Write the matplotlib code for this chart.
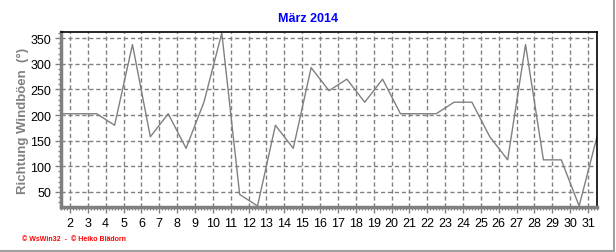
import matplotlib
matplotlib.use("Agg")
import matplotlib.pyplot as plt
import numpy as np
from matplotlib.ticker import MultipleLocator
from matplotlib.lines import Line2D

# Tageswerte Richtung Windböen (Grad), März 2014
days = list(range(1, 32))
richtung = [202.5, 202.5, 202.5, 180, 337.5, 157.5, 202.5, 135, 225, 360,
            45, 22.5, 180, 135, 292.5, 247.5, 270, 225, 270, 202.5,
            202.5, 202.5, 225, 225, 157.5, 112.5, 337.5, 112.5, 112.5, 22.5,
            157.5]
xticks = list(range(2, 32))
yticks = [50, 100, 150, 200, 250, 300, 350]

plt.rcParams['font.family'] = ['Liberation Sans', 'DejaVu Sans']

fig = plt.figure(figsize=(6.16, 2.53), dpi=100)
ax = fig.add_axes([61/616, 1-208/253, (597-61)/616, (208-33)/253])

x = np.array(days) + 0.5
ax.plot(x, richtung, color='#808080', lw=1)

ax.set_xlim(1.5, 31.5)
ax.set_ylim(20.5, 362)
ax.set_xticks(xticks)
ax.set_yticks(yticks)
ax.xaxis.set_minor_locator(MultipleLocator(1/6))
ax.yaxis.set_minor_locator(MultipleLocator(10))
ax.grid(True, which='major', color='#808080', ls=(0, (3, 2)), lw=1)

ax.tick_params(which='major', direction='out', length=4, width=1,
               color='#808080', labelsize=9, pad=3)
ax.tick_params(which='minor', direction='out', length=2, width=1,
               color='#808080')

for s in ['left', 'bottom']:
    ax.spines[s].set_color('#808080')
    ax.spines[s].set_linewidth(2.5)
for s in ['top', 'right']:
    ax.spines[s].set_color('black')
    ax.spines[s].set_linewidth(1.2)

ax.set_ylabel('Richtung Windböen  (°)', color='#808080', fontsize=9.5,
              fontweight='bold', labelpad=1)

fig.text(308/616, 1-19/253, 'März 2014', color='#0000ff', fontsize=9,
         fontweight='bold', ha='center', va='center')
fig.text(22/616, 1-240/253, '© WsWin32  -  © Heiko Blädorn', color='#ff0000',
         fontsize=5, fontweight='bold', ha='left', va='center')

# grauer Rahmen rechts und unten
xr = 613.5/616
yb = 1 - 251.5/253
fig.add_artist(Line2D([0, xr], [yb, yb], transform=fig.transFigure,
                      color='#a0a0a0', lw=1.5))
fig.add_artist(Line2D([xr, xr], [yb, 1], transform=fig.transFigure,
                      color='#a0a0a0', lw=1.5))

fig.savefig('out.png', dpi=100)
